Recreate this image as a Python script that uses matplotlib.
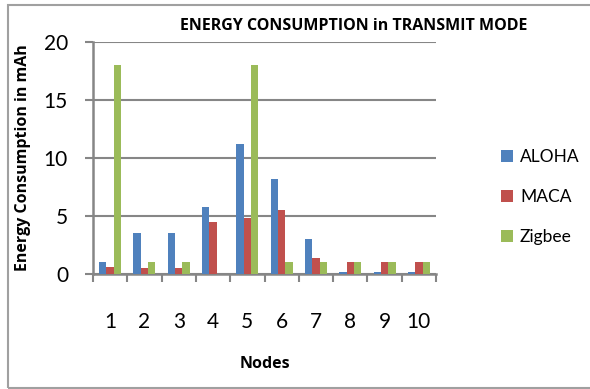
import matplotlib.pyplot as plt
import numpy as np
from matplotlib.patches import Rectangle

nodes = ["1", "2", "3", "4", "5", "6", "7", "8", "9", "10"]
aloha = [1.0, 3.5, 3.5, 5.8, 11.2, 8.2, 3.0, 0.2, 0.2, 0.2]
maca = [0.6, 0.5, 0.5, 4.5, 4.8, 5.5, 1.4, 1.0, 1.0, 1.0]
zigbee = [18.0, 1.0, 1.0, 0.0, 18.0, 1.0, 1.0, 1.0, 1.0, 1.0]
series = [("ALOHA", aloha, "#4F81BD"), ("MACA", maca, "#C0504D"), ("Zigbee", zigbee, "#9BBB59")]

plt.rcParams['font.family'] = ['Lato', 'DejaVu Sans']
bold = ['Open Sans', 'DejaVu Sans']
grey = "#868686"

fig = plt.figure(figsize=(5.9, 3.89), dpi=100)
ax = fig.add_axes([93/590, 1-274/389, (436-93)/590, (274-42)/389])

x = np.arange(len(nodes))
w = 0.214
for i, (name, vals, col) in enumerate(series):
    ax.bar(x + (i - 1)*w, vals, w, color=col, label=name, zorder=3)

ax.set_xlim(-0.5, len(nodes) - 0.5)
ax.set_ylim(0, 20)
ax.set_yticks([0, 5, 10, 15, 20])
ax.yaxis.grid(True, color=grey, linewidth=1.5, zorder=0)
ax.set_xticks(x)
ax.set_xticklabels(nodes)
ax.set_xticks(np.arange(-0.5, len(nodes)), minor=True)
ax.tick_params(axis='x', which='major', length=0, pad=27, labelsize=15)
ax.tick_params(axis='x', which='minor', length=6, width=1.5, color=grey, direction='out')
ax.tick_params(axis='y', length=6, width=1.5, color=grey, pad=12, labelsize=15)
for s in ['top', 'right']:
    ax.spines[s].set_visible(False)
for s in ['left', 'bottom']:
    ax.spines[s].set_color(grey)
    ax.spines[s].set_linewidth(1.8)

ax.set_ylabel("Energy Consumption in mAh", fontsize=11.5, fontweight='bold', family=bold)
ax.yaxis.set_label_coords(-62/343, 0.5)
fig.text(265/590, 1-364/389, "Nodes", ha='center', va='center', fontsize=11.5,
         fontweight='bold', family=bold)
fig.text(354/590, 1-26/389, "ENERGY CONSUMPTION in TRANSMIT MODE", ha='center', va='center',
         fontsize=11.5, fontweight='bold', family=bold)

fig.legend(loc='center left', bbox_to_anchor=(494/590, 1-197/389), frameon=False,
           fontsize=12.5, handlelength=0.7, handleheight=0.7, handletextpad=0.4,
           labelspacing=1.4, borderaxespad=0)

fig.patches.append(Rectangle((8/590, 1-388/389), 590, 383/389, transform=fig.transFigure,
                             fill=False, edgecolor="#a0a0a0", linewidth=1.5))

fig.savefig("out.png", dpi=100)
